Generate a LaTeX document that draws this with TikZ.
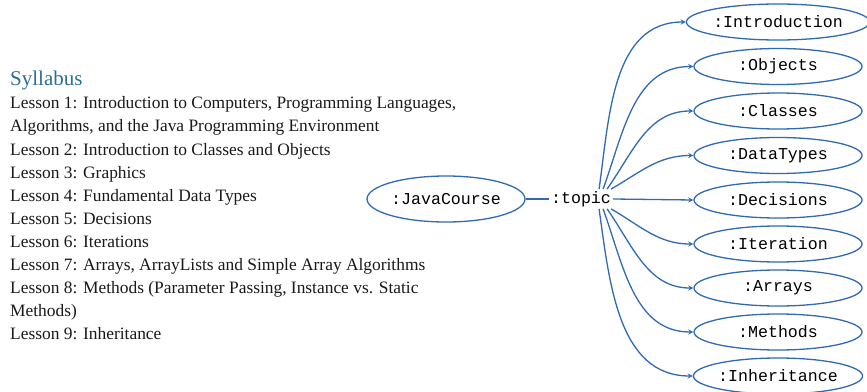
\documentclass[tikz,border=0pt]{standalone}
\usepackage{fontspec}
\setmainfont{Liberation Serif}
\setmonofont{Liberation Mono}
\usepackage{tikz}
\usetikzlibrary{shapes.geometric}
\definecolor{linkblue}{RGB}{48,106,178}
\definecolor{headblue}{RGB}{44,110,150}
\definecolor{bodytext}{RGB}{25,25,25}

\begin{document}
\begin{tikzpicture}[
	obj/.style={draw=linkblue, line width=1.3pt, ellipse, minimum width=168pt, minimum height=36pt, inner sep=0pt, font=\ttfamily\fontsize{16.6}{16}\selectfont},
	link/.style={->, >=stealth, line width=1.3pt, linkblue}]
	\useasboundingbox (0pt,0pt) rectangle (867pt,-391pt);
	% syllabus text on the left
	\node[anchor=north west, inner sep=0pt, align=left, text=bodytext, font=\fontsize{17.4}{23.1}\selectfont] (syllabus) at (10pt,-71pt)
		{{\color{headblue}\fontsize{21}{23.1}\selectfont Syllabus}\\
		Lesson 1: Introduction to Computers, Programming Languages,\\
		Algorithms, and the Java Programming Environment\\
		Lesson 2: Introduction to Classes and Objects\\
		Lesson 3: Graphics\\
		Lesson 4: Fundamental Data Types\\
		Lesson 5: Decisions\\
		Lesson 6: Iterations\\
		Lesson 7: Arrays, ArrayLists and Simple Array Algorithms\\
		Lesson 8: Methods (Parameter Passing, Instance vs. Static\\
		Methods)\\
		Lesson 9: Inheritance};

	\node[obj, minimum width=158pt, minimum height=46pt] (course) at (446pt,-199pt) {:JavaCourse};
	\node[inner sep=2pt, font=\ttfamily\fontsize{16.6}{16}\selectfont] (topic) at (581pt,-199pt) {:topic};
	\draw[line width=1.3pt, linkblue] (course) -- (topic);

	\node[obj] (intro) at (778pt,-22pt) {:Introduction};
	\node[obj, below of=intro, node distance=44.5pt] (objects) {:Objects};
	\node[obj, below of=objects, node distance=44.5pt] (classes) {:Classes};
	\node[obj, below of=classes, node distance=44.5pt] (types) {:DataTypes};
	\node[obj, below of=types, node distance=44.5pt] (decisions) {:Decisions};
	\node[obj, below of=decisions, node distance=44pt] (iteration) {:Iteration};
	\node[obj, below of=iteration, node distance=44pt] (arrays) {:Arrays};
	\node[obj, below of=arrays, node distance=44pt] (methods) {:Methods};
	\node[obj, below of=methods, node distance=44pt] (inherit) {:Inheritance};

	% arrows fanning out from :topic
	\draw[link] ([xshift=-14pt] topic.north east) to[out=82, in=180] (intro.west);
	\draw[link] ([xshift=-10pt] topic.north east) to[out=70, in=180] (objects.west);
	\draw[link] ([xshift=-6pt] topic.north east) to[out=55, in=180] (classes.west);
	\draw[link] ([xshift=-2pt] topic.north east) to[out=30, in=180] (types.west);
	\draw[link] (topic.east) -- (decisions.west);
	\draw[link] ([xshift=-2pt] topic.south east) to[out=-30, in=180] (iteration.west);
	\draw[link] ([xshift=-6pt] topic.south east) to[out=-55, in=180] (arrays.west);
	\draw[link] ([xshift=-10pt] topic.south east) to[out=-70, in=180] (methods.west);
	\draw[link] ([xshift=-14pt] topic.south east) to[out=-82, in=180] (inherit.west);
\end{tikzpicture}
\end{document}
